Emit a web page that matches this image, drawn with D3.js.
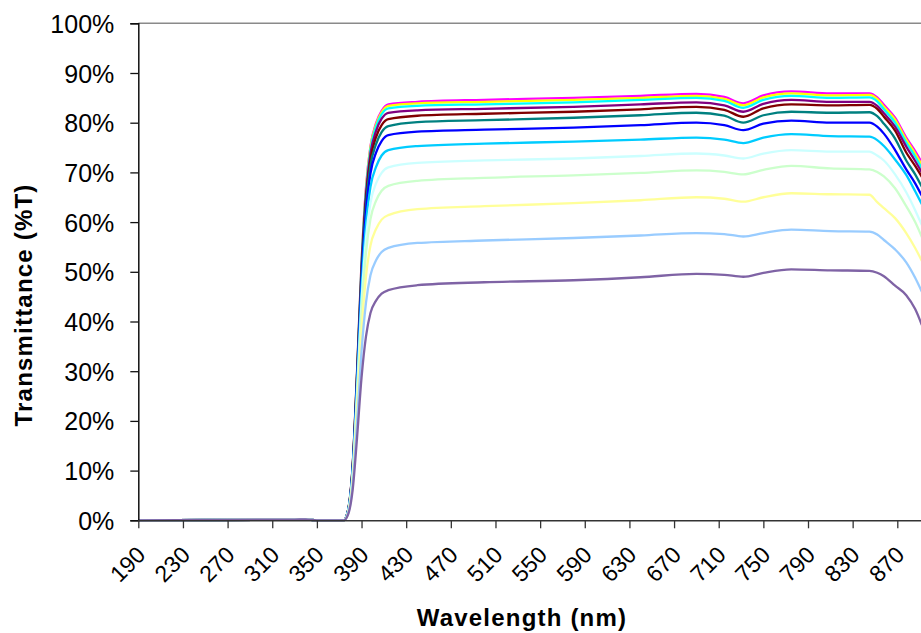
<!DOCTYPE html>
<html>
<head>
<meta charset="utf-8">
<script src="https://cdn.jsdelivr.net/npm/d3@7"></script>
<style>
  body { margin: 0; background: #fff; }
  text { font-family: Arial, "Liberation Sans", sans-serif; fill: #000; }
</style>
</head>
<body>
<svg id="chart"></svg>
<script>
// wavelength knots (nm)
const wavelengths = [ 190, 330, 340, 350, 374, 378, 382, 386, 390, 394, 398, 403, 408, 414,
  440, 500, 580, 640, 690, 715, 732, 750, 775, 810, 845, 852, 858, 868, 878, 886, 892 ];

// %T for each sample, same order as wavelengths
const sMagenta   = [ 0, 0.15, 0.2, 0, 0, 2.1, 10.9, 30.1, 51.9, 67.0, 75.3, 79.9, 82.4, 83.7,
  84.2, 84.6, 85.0, 85.4, 85.8, 85.2, 83.9, 85.5, 86.3, 85.9, 85.9, 85.1, 83.6, 81.0, 77.0, 74.3, 72.0 ];
const sYellow    = [ 0, 0.15, 0.2, 0, 0, 2.1, 10.8, 30.0, 51.7, 66.7, 75.1, 79.6, 82.1, 83.4,
  83.9, 84.2, 84.6, 85.0, 85.4, 84.8, 83.5, 85.1, 85.9, 85.5, 85.6, 84.8, 83.2, 80.6, 76.6, 73.8, 71.5 ];
const sCyan      = [ 0, 0.15, 0.2, 0, 0, 2.1, 10.8, 29.8, 51.4, 66.3, 74.6, 79.2, 81.7, 82.9,
  83.4, 83.7, 84.1, 84.6, 85.0, 84.4, 83.0, 84.6, 85.4, 85.0, 85.1, 84.3, 82.7, 80.0, 76.0, 73.2, 70.8 ];
const sPurple    = [ 0, 0.15, 0.2, 0, 0, 2.1, 10.7, 29.5, 50.8, 65.6, 73.8, 78.3, 80.8, 82.0,
  82.5, 82.8, 83.2, 83.7, 84.1, 83.5, 82.2, 83.8, 84.6, 84.2, 84.2, 83.4, 81.9, 79.2, 75.2, 72.3, 70.0 ];
const sDarkRed   = [ 0, 0.15, 0.2, 0, 0, 2.0, 10.5, 29.1, 50.0, 64.6, 72.6, 77.1, 79.5, 80.7,
  81.4, 81.8, 82.2, 82.7, 83.2, 82.6, 81.2, 82.9, 83.7, 83.5, 83.6, 82.8, 81.2, 78.4, 74.0, 71.3, 69.1 ];
const sTeal      = [ 0, 0.15, 0.2, 0, 0, 2.0, 10.3, 28.5, 49.2, 63.4, 71.4, 75.7, 78.1, 79.3,
  80.1, 80.5, 81.0, 81.5, 82.0, 81.4, 80.0, 81.5, 82.2, 82.0, 82.1, 81.3, 79.8, 76.8, 72.4, 69.6, 67.1 ];
const sBlue      = [ 0, 0.15, 0.2, 0, 0, 1.9, 10.1, 27.9, 48.1, 62.0, 69.8, 74.0, 76.3, 77.5,
  78.2, 78.6, 79.0, 79.5, 80.0, 79.5, 78.5, 79.8, 80.4, 80.0, 80.0, 79.2, 77.8, 74.5, 70.6, 67.8, 65.3 ];
const sSkyBlue   = [ 0, 0.15, 0.2, 0, 0, 1.9, 9.7, 26.8, 46.2, 59.6, 67.1, 71.1, 73.4, 74.5,
  75.3, 75.8, 76.2, 76.6, 77.0, 76.6, 75.9, 77.0, 77.7, 77.3, 77.2, 76.5, 75.3, 72.6, 69.5, 66.2, 63.6 ];
const sLightTurq = [ 0, 0.15, 0.2, 0, 0, 1.8, 9.2, 25.6, 44.0, 56.8, 63.9, 67.8, 69.9, 71.0,
  71.9, 72.4, 72.8, 73.3, 73.8, 73.4, 72.8, 73.8, 74.5, 74.2, 74.2, 73.4, 72.4, 69.6, 66.0, 62.4, 59.4 ];
const sLightGrn  = [ 0, 0.15, 0.2, 0, 0, 1.7, 8.7, 24.2, 41.7, 53.8, 60.6, 64.3, 66.3, 67.3,
  68.3, 68.9, 69.4, 69.9, 70.4, 70.1, 69.6, 70.5, 71.3, 70.8, 70.6, 70.1, 69.2, 66.8, 63.2, 60.0, 57.0 ];
const sLightYel  = [ 0, 0.15, 0.2, 0, 0, 1.5, 8.0, 22.1, 38.1, 49.1, 55.3, 58.6, 60.5, 61.4,
  62.6, 63.2, 63.8, 64.4, 65.0, 64.7, 64.1, 65.0, 65.8, 65.6, 65.5, 64.0, 62.8, 60.8, 57.8, 54.8, 52.2 ];
const sPaleBlue  = [ 0, 0.15, 0.2, 0, 0, 1.4, 7.1, 19.7, 34.0, 43.8, 49.3, 52.3, 54.0, 54.8,
  55.8, 56.3, 56.8, 57.3, 57.8, 57.6, 57.1, 57.8, 58.5, 58.2, 58.1, 57.5, 56.4, 54.5, 51.9, 48.8, 46.0 ];
const sLavender  = [ 0, 0.15, 0.2, 0, 0, 1.2, 6.0, 16.7, 28.7, 37.0, 41.7, 44.2, 45.6, 46.3,
  47.3, 47.9, 48.3, 48.9, 49.6, 49.4, 49.0, 49.8, 50.5, 50.3, 50.2, 49.8, 49.1, 47.2, 45.3, 42.5, 39.3 ];

const seriesList = [ sMagenta, sYellow, sCyan, sPurple, sDarkRed, sTeal, sBlue,
  sSkyBlue, sLightTurq, sLightGrn, sLightYel, sPaleBlue, sLavender ];
const seriesColors = [ '#FF00FF', '#FFFF00', '#00FFFF', '#800080', '#800000', '#008080', '#0000FF',
  '#00CCFF', '#CCFFFF', '#CCFFCC', '#FFFF99', '#99CCFF', '#7F63A5' ];

const xTicks = [ 190, 230, 270, 310, 350, 390, 430, 470, 510, 550, 590, 630, 670, 710, 750, 790, 830, 870 ];
const yTicks = [ 0, 10, 20, 30, 40, 50, 60, 70, 80, 90, 100 ];

const chartW = 921, chartH = 633;
const plotLeft = 138.3, plotTop = 23.3, plotBottom = 520.3;

let svg = d3.select( '#chart' ).attr( 'width', chartW ).attr( 'height', chartH );

let x = d3.scaleLinear().domain( [ 190, 870 ] ).range( [ plotLeft, 897.3 ] );
let y = d3.scaleLinear().domain( [ 0, 100 ] ).range( [ plotBottom, plotTop ] );

// top border of plot area
svg.append( 'line' )
  .attr( 'x1', plotLeft ).attr( 'x2', chartW ).attr( 'y1', plotTop ).attr( 'y2', plotTop )
  .attr( 'stroke', '#8a8a8a' ).attr( 'stroke-width', 1.5 );

// series
let line = d3.line()
  .x( function( d, i ) { return x( wavelengths[ i ] ); } )
  .y( function( d ) { return y( d ); } )
  .curve( d3.curveMonotoneX );

svg.append( 'g' )
  .selectAll( 'path' )
  .data( seriesList )
  .enter().append( 'path' )
  .attr( 'd', line )
  .attr( 'fill', 'none' )
  .attr( 'stroke', function( d, i ) { return seriesColors[ i ]; } )
  .attr( 'stroke-width', 2.3 )
  .attr( 'stroke-linejoin', 'round' );

// y axis
let yAxis = svg.append( 'g' )
  .attr( 'transform', 'translate(' + plotLeft + ',0)' )
  .call( d3.axisLeft( y ).tickValues( yTicks ).tickSize( 8 ).tickPadding( 16 )
    .tickFormat( function( d ) { return d + '%'; } ) );
yAxis.select( '.domain' ).attr( 'stroke', '#111' ).attr( 'stroke-width', 1.5 );
yAxis.selectAll( '.tick line' ).attr( 'stroke', '#111' ).attr( 'stroke-width', 1.3 );
yAxis.selectAll( '.tick text' )
  .attr( 'font-size', 25 ).attr( 'font-family', 'Arial, "Liberation Sans", sans-serif' )
  .attr( 'dy', '0.36em' );

// x axis
let xAxis = svg.append( 'g' )
  .attr( 'transform', 'translate(0,' + plotBottom + ')' )
  .call( d3.axisBottom( x ).tickValues( xTicks ).tickSize( 8 ).tickSizeOuter( 0 ) );
xAxis.select( '.domain' ).attr( 'stroke', '#333' ).attr( 'stroke-width', 1.5 )
  .attr( 'd', 'M' + plotLeft + ',0.5H' + chartW );
xAxis.selectAll( '.tick line' ).attr( 'stroke', '#333' ).attr( 'stroke-width', 1.3 );
xAxis.selectAll( '.tick text' )
  .attr( 'font-size', 23 ).attr( 'font-family', 'Arial, "Liberation Sans", sans-serif' )
  .attr( 'text-anchor', 'end' )
  .attr( 'y', 0 ).attr( 'dy', 0 )
  .attr( 'transform', 'translate(8,36) rotate(-45)' );

// axis titles
svg.append( 'text' )
  .attr( 'x', 522 ).attr( 'y', 626 )
  .attr( 'text-anchor', 'middle' )
  .attr( 'font-size', 24 ).attr( 'font-weight', 'bold' )
  .attr( 'letter-spacing', 1.2 )
  .text( 'Wavelength (nm)' );

svg.append( 'text' )
  .attr( 'transform', 'translate(32,305) rotate(-90)' )
  .attr( 'text-anchor', 'middle' )
  .attr( 'font-size', 24 ).attr( 'font-weight', 'bold' )
  .attr( 'letter-spacing', 1.2 )
  .text( 'Transmittance (%T)' );
</script>
</body>
</html>
